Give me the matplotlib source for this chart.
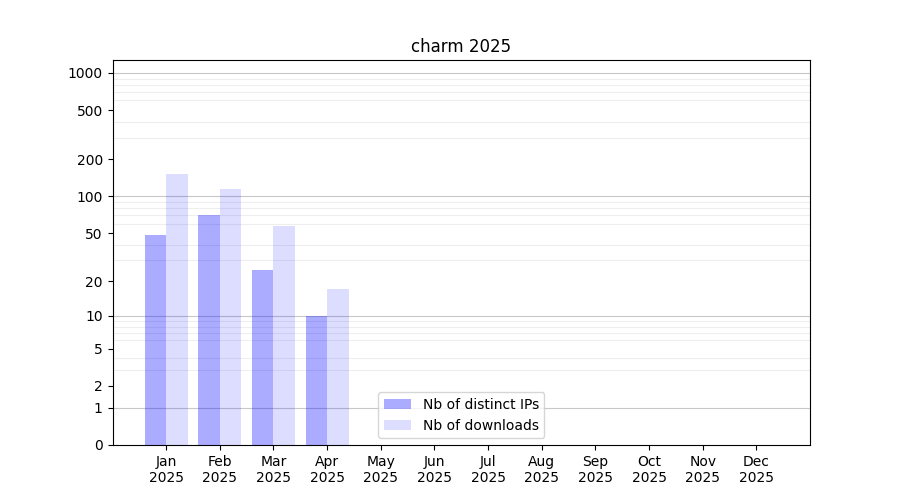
import matplotlib
matplotlib.use('Agg')
import matplotlib.pyplot as plt
import numpy as np
from matplotlib.ticker import FixedLocator, FixedFormatter

# dane
months = ['Jan', 'Feb', 'Mar', 'Apr', 'May', 'Jun', 'Jul', 'Aug', 'Sep', 'Oct', 'Nov', 'Dec']
year = '2025'
distinct_ips = [48, 70, 25, 10, 0, 0, 0, 0, 0, 0, 0, 0]
downloads = [152, 115, 57, 17, 0, 0, 0, 0, 0, 0, 0, 0]
yticks = [0, 1, 2, 5, 10, 20, 50, 100, 200, 500, 1000]


def fwd(x):
    return np.log10(np.asarray(x, dtype=float) + 1)


def inv(y):
    return 10 ** np.asarray(y, dtype=float) - 1


fig, ax = plt.subplots(figsize=(9, 5), dpi=100)
x = np.arange(len(months))

ax.set_axisbelow(True)
ax.bar(x, distinct_ips, width=-0.4, align='edge', color='blue', alpha=0.33, label='Nb of distinct IPs', zorder=2)
ax.bar(x, downloads, width=0.4, align='edge', color='blue', alpha=0.135, label='Nb of downloads', zorder=2)

ax.set_yscale('function', functions=(fwd, inv))
ax.set_ylim(0, 1272)
ax.set_xlim(-1, 12)

ax.yaxis.set_major_locator(FixedLocator(yticks))
ax.yaxis.set_major_formatter(FixedFormatter([str(t) for t in yticks]))
minor = [m * d for d in (1, 10, 100) for m in range(2, 10)]
ax.yaxis.set_minor_locator(FixedLocator(minor))
ax.tick_params(axis='y', which='minor', length=0)
ax.grid(True, which='minor', axis='y', color='#eeeeee', linewidth=0.8, zorder=0)
for d in (1, 10, 100, 1000):
    ax.axhline(d, color='#c8c8c8', linewidth=0.8, zorder=0.5)

ax.set_xticks(x)
ax.set_xticklabels([m + '\n' + year for m in months])
ax.set_title('charm 2025')
ax.legend(loc='lower center')

fig.savefig('out.png')
